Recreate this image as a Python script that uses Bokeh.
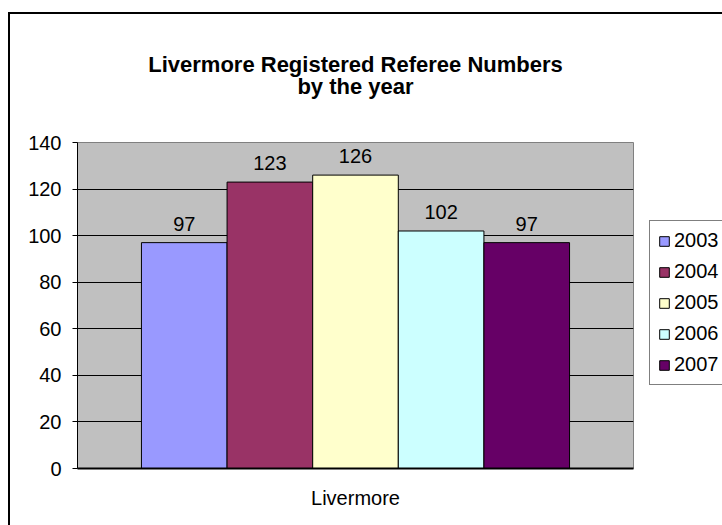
from bokeh.plotting import figure
from bokeh.models import (FactorRange, Range1d, ColumnDataSource, Legend, LegendItem,
                          SingleIntervalTicker, Title)
from bokeh.core.properties import value
from bokeh.transform import dodge
from bokeh.embed import file_html
from bokeh.resources import INLINE

category = ["Livermore"]
years = ["2003", "2004", "2005", "2006", "2007"]
counts = [97, 123, 126, 102, 97]
colors = ["#9999FF", "#993366", "#FFFFCC", "#CCFFFF", "#660066"]
offsets = [-0.308, -0.154, 0.0, 0.154, 0.308]
title_lines = ["Livermore Registered Referee Numbers", "by the year"]
y_ticks_step = 20

FONT = "Liberation Sans"

p = figure(
    title=None,
    x_range=FactorRange(*category),
    y_range=Range1d(0, 140),
    frame_width=556, frame_height=326,
    min_border_left=67, min_border_right=89,
    min_border_top=128, min_border_bottom=57,
    output_backend="svg", toolbar_location=None,
    background_fill_color="#C0C0C0", border_fill_color="white",
)
p.styles = {"margin-left": "8px", "margin-top": "12px",
            "border-left": "2px solid #000", "border-top": "2px solid #000"}

spacer = Title(text=" ", text_font=FONT, text_font_size="22px", standoff=22)
sub = Title(text=title_lines[1], align="center", text_font=FONT, text_font_size="22px",
            text_font_style="bold", text_color="#000000", standoff=-10)
main = Title(text=title_lines[0], align="center", text_font=FONT, text_font_size="22px",
             text_font_style="bold", text_color="#000000", standoff=0)
p.add_layout(spacer, "above")
p.add_layout(sub, "above")
p.add_layout(main, "above")

items = []
for yr, val, col, off in zip(years, counts, colors, offsets):
    src = ColumnDataSource(dict(x=category, top=[val], lbl=[str(val)]))
    r = p.vbar(x=dodge("x", off, range=p.x_range), top="top", width=0.154,
               source=src, fill_color=col, line_color="#000000", line_width=1)
    p.text(x=dodge("x", off, range=p.x_range), y="top", text="lbl", source=src,
           text_align="center", text_baseline="alphabetic", y_offset=-19,
           text_font_size=value("20px"), text_color="#000000", text_font=value(FONT))
    items.append(LegendItem(label=yr, renderers=[r]))

legend = Legend(items=items, location=(16, 83), orientation="vertical")
legend.label_text_font = FONT
legend.label_text_font_size = "20px"
legend.label_text_color = "#000000"
legend.label_standoff = 4
legend.label_width = 57
legend.glyph_width = 12
legend.glyph_height = 12
legend.label_height = 20
legend.spacing = 8
legend.padding = 8
legend.margin = 0
legend.border_line_color = "#000000"
legend.border_line_width = 1
legend.background_fill_color = "white"
legend.background_fill_alpha = 1
p.add_layout(legend, "right")

p.outline_line_color = "#808080"
p.xgrid.grid_line_color = None
p.ygrid.grid_line_color = "#000000"
p.ygrid.grid_line_width = 1
p.yaxis.ticker = SingleIntervalTicker(interval=y_ticks_step)
p.yaxis.minor_tick_line_color = None
p.yaxis.major_tick_in = 0
p.yaxis.major_tick_out = 5
p.yaxis.major_label_standoff = 11
p.yaxis.axis_line_color = "#000000"
p.yaxis.major_tick_line_color = "#000000"
p.xaxis.major_tick_line_color = None
p.xaxis.axis_line_color = "#000000"
p.xaxis.axis_line_width = 2
p.xaxis.major_label_standoff = 12
for ax in (p.xaxis, p.yaxis):
    ax.major_label_text_font = FONT
    ax.major_label_text_font_size = "20px"
    ax.major_label_text_color = "#000000"

open("out.html", "w").write(file_html(p, INLINE))
